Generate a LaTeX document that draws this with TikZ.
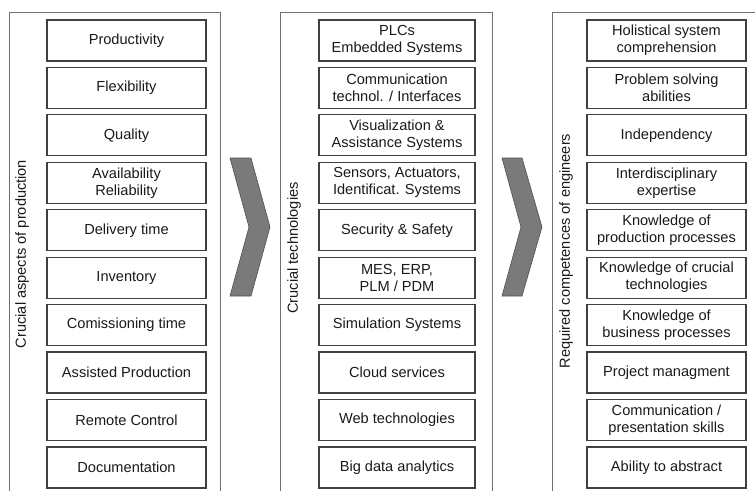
\documentclass[tikz,border=0pt]{standalone}
\usepackage{fontspec}
\setmainfont{Liberation Sans}
\definecolor{framegray}{HTML}{707070}
\definecolor{boxgray}{HTML}{404040}
\definecolor{txt}{HTML}{1A1A1A}
\definecolor{chevfill}{HTML}{7A7A7A}
\definecolor{chevline}{HTML}{505050}
\begin{document}
\begin{tikzpicture}[x=1pt,y=-1pt,
  item/.style={draw=boxgray,line width=1.2pt,minimum height=41pt,inner sep=1pt,
    align=center,text=txt,font=\fontsize{14.6}{17}\selectfont},
  litem/.style={item,minimum width=159pt},
  mitem/.style={item,minimum width=156pt},
  ritem/.style={item,minimum width=159pt},
  frame/.style={draw=framegray,line width=0.9pt},
  vlabel/.style={rotate=90,text=txt,font=\fontsize{14.6}{17}\selectfont,inner sep=0pt},
  chev/.style={fill=chevfill,draw=chevline,line width=0.6pt,line join=round}]
\useasboundingbox (0,0) rectangle (755,490);
\clip (0,0) rectangle (755,490);
\fill[white] (0,0) rectangle (755,490);
% frames
\draw[frame] (9,12) rectangle (220,520);
\draw[frame] (280,12) rectangle (492,520);
\draw[frame] (552,12) rectangle (780,520);
% vertical labels
\node[vlabel] (lab1) at (22,254) {Crucial aspects of production};
\node[vlabel] (lab2) at (294,248) {Crucial technologies};
\node[vlabel] (lab3) at (566,251) {Required competences of engineers};
% chevrons
\draw[chev] (230,158) -- (251,158) -- (270,227) -- (251,296) -- (230,296) -- (249,227) -- cycle;
\draw[chev] (502,158) -- (522,158) -- (542,227) -- (522,296) -- (502,296) -- (521,227) -- cycle;
% left column
\foreach \t [count=\i from 0] in {Productivity,Flexibility,Quality,{Availability\\Reliability},Delivery time,Inventory,Comissioning time,Assisted Production,Remote Control,Documentation}
  \node[litem] (l\i) at (126.5,40.5+\i*47.44) {\t};
% middle column
\foreach \t [count=\i from 0] in {{PLCs\\Embedded Systems},{Communication\\technol. / Interfaces},{Visualization \&\\Assistance Systems},{Sensors, Actuators,\\Identificat. Systems},{Security \& Safety},{MES, ERP,\\PLM / PDM},Simulation Systems,Cloud services,Web technologies,Big data analytics}
  \node[mitem] (m\i) at (397,40.5+\i*47.44) {\t};
% right column
\foreach \t [count=\i from 0] in {{Holistical system\\comprehension},{Problem solving\\abilities},Independency,{Interdisciplinary\\expertise},{Knowledge of\\production processes},{Knowledge of crucial\\technologies},{Knowledge of\\business processes},Project managment,{Communication /\\presentation skills},Ability to abstract}
  \node[ritem] (r\i) at (666.5,40.5+\i*47.44) {\t};
\end{tikzpicture}
\end{document}
